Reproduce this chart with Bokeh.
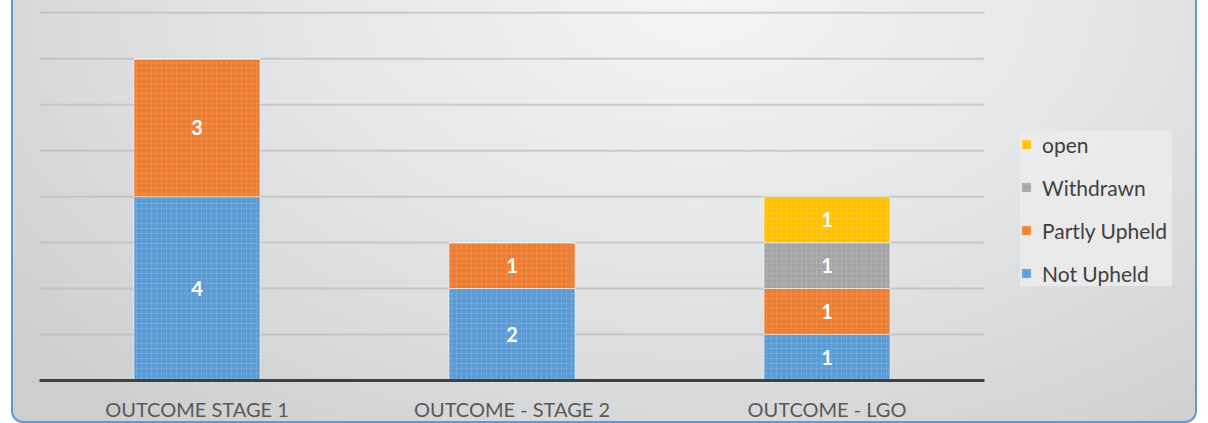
from bokeh.plotting import figure
from bokeh.models import (ColumnDataSource, Range1d, FixedTicker,
                          LabelSet, Legend, LegendItem)
from bokeh.core.properties import value
from bokeh.embed import file_html
from bokeh.resources import INLINE

categories = ["OUTCOME STAGE 1", "OUTCOME - STAGE 2", "OUTCOME - LGO"]
series = ["Not Upheld", "Partly Upheld", "Withdrawn", "open"]
not_upheld = [4, 2, 1]
partly_upheld = [3, 1, 1]
withdrawn = [0, 0, 1]
open_ = [0, 0, 1]
colors = ["#5b9bd5", "#ed7d31", "#a5a5a5", "#ffc000"]
y_ticks = [1, 2, 3, 4, 5, 6, 7, 8]

xpos = [i + 0.5 for i in range(len(categories))]
data = {"x": xpos, "Not Upheld": not_upheld, "Partly Upheld": partly_upheld,
        "Withdrawn": withdrawn, "open": open_}
source = ColumnDataSource(data)

FONT = "Lato"
W, H = 1186, 423
LEFT = 26
FRAME_W = 945  # width of the category area
x_end = len(categories) * (W - LEFT) / FRAME_W

p = figure(x_range=Range1d(0, x_end), y_range=Range1d(0, 8.05),
           width=W, height=H, output_backend="svg", toolbar_location=None,
           min_border_left=LEFT, min_border_right=0, min_border_top=10,
           min_border_bottom=40)
p.background_fill_color = None
p.border_fill_color = None
p.outline_line_color = None
p.styles = {
    "margin-left": "11px",
    "border-left": "2px solid #5b9bd5",
    "border-right": "2px solid #5b9bd5",
    "border-bottom": "2px solid #5b9bd5",
    "border-bottom-left-radius": "12px",
    "border-bottom-right-radius": "12px",
    "background": "radial-gradient(ellipse 75% 130% at 58% 0%, #f4f4f5 0%, #e5e6e7 45%, #cdced0 100%)",
}

# horizontal gridlines over the category area only
p.segment(x0=0, x1=len(categories), y0=y_ticks, y1=y_ticks,
          line_color="#bcbcbc", line_alpha=0.7, line_width=2)
p.grid.visible = False

renderers = p.vbar_stack(series, x="x", width=0.4, source=source, color=colors,
                         line_color="white", line_alpha=0.5, line_width=1,
                         hatch_pattern="+", hatch_color="white", hatch_alpha=0.1,
                         hatch_scale=5, hatch_weight=1)

# data labels at segment midpoints
vals = [not_upheld, partly_upheld, withdrawn, open_]
lx, ly, lt = [], [], []
for i, c in enumerate(categories):
    base = 0
    for v in vals:
        s = v[i]
        if s > 0:
            lx.append(xpos[i])
            ly.append(base + s / 2)
            lt.append(str(s))
        base += s
lab_src = ColumnDataSource({"x": lx, "y": ly, "t": lt})
p.add_layout(LabelSet(x="x", y="y", text="t", source=lab_src, text_color="white",
                      text_font=value(FONT), text_font_style="bold",
                      text_font_size="20px",
                      text_align="center", text_baseline="middle"))

p.yaxis.visible = False

ax = p.xaxis[0]
ax.ticker = FixedTicker(ticks=xpos)
ax.major_label_overrides = {x: c for x, c in zip(xpos, categories)}
ax.bounds = (0, len(categories))
ax.axis_line_color = "#404040"
ax.axis_line_width = 3
ax.major_tick_line_color = None
ax.minor_tick_line_color = None
ax.major_tick_out = 0
ax.major_tick_in = 0
ax.major_label_text_font = FONT
ax.major_label_text_font_size = "20px"
ax.major_label_text_color = "#595959"
ax.major_label_standoff = 16

items = [LegendItem(label=s, renderers=[r]) for s, r in zip(series, renderers)][::-1]
legend = Legend(items=items, location=(981, 94), orientation="vertical",
                glyph_width=12, glyph_height=12, label_height=26, spacing=17,
                label_width=130,
                padding=20, margin=0, label_standoff=10,
                label_text_font=FONT, label_text_font_size="21px",
                label_text_color="#404040",
                background_fill_color="#ebebec", background_fill_alpha=0.9,
                border_line_color=None)
p.add_layout(legend, "center")

open("out.html", "w").write(file_html(p, INLINE))
